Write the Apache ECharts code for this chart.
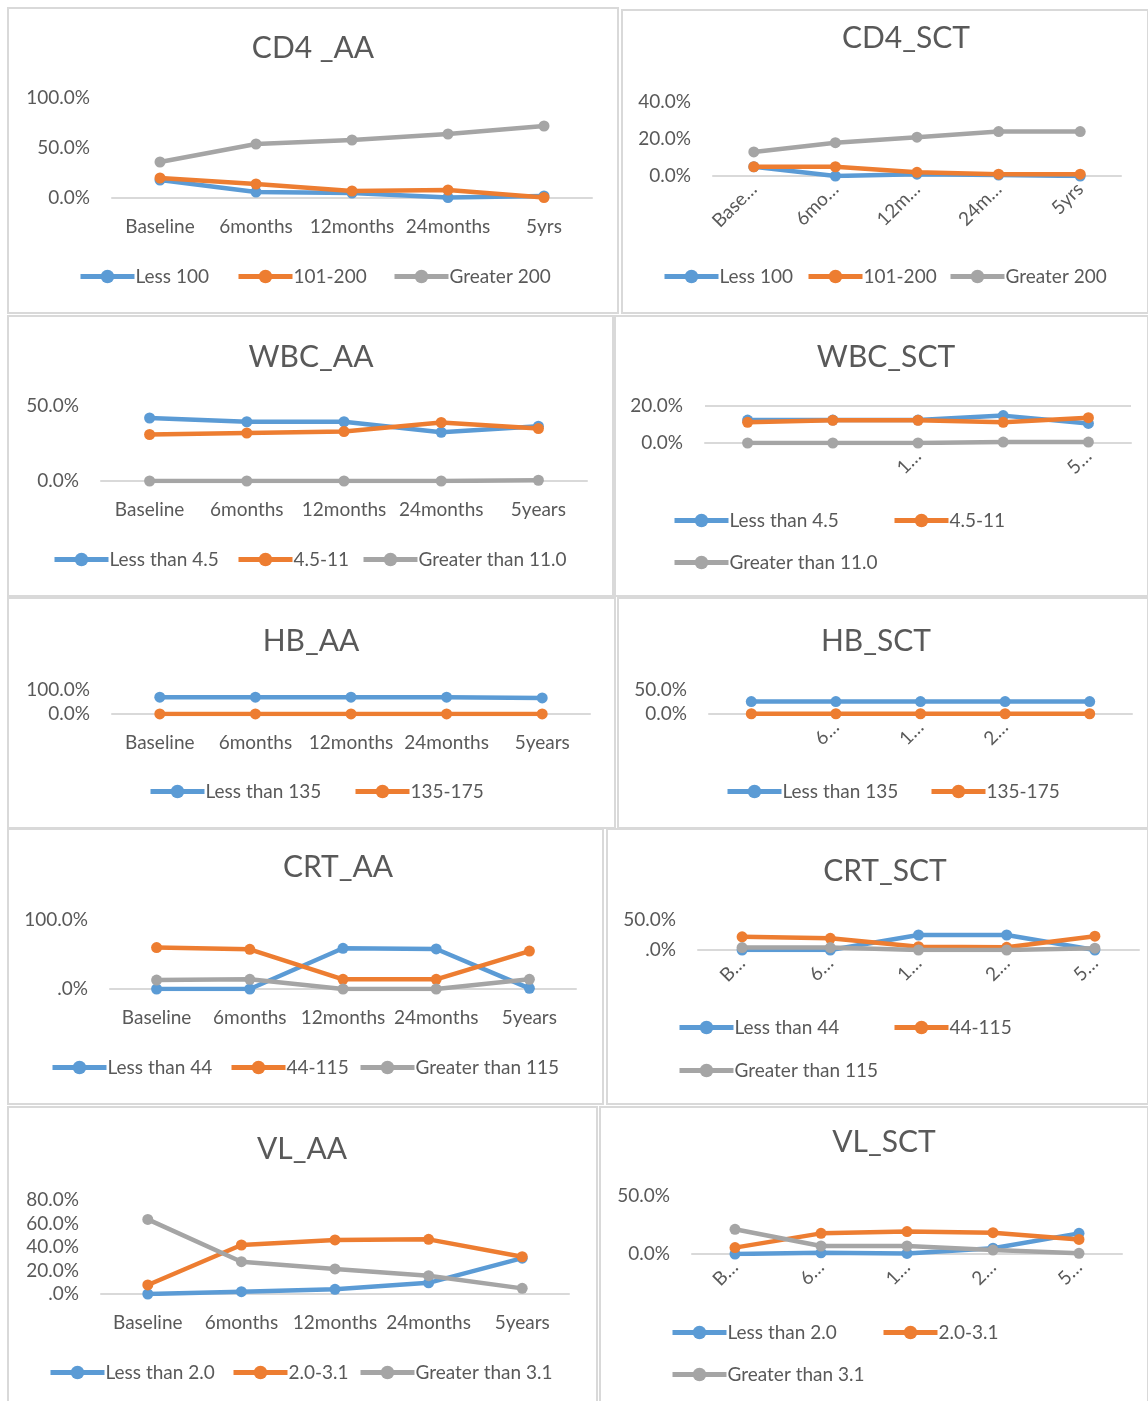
<!DOCTYPE html>
<html>
<head>
<meta charset="utf-8">
<script src="https://cdn.jsdelivr.net/npm/echarts@6/dist/echarts.min.js"></script>
<style>
html,body{margin:0;padding:0;background:#fff;}
#c{width:1148px;height:1401px;}
</style>
</head>
<body>
<div id="c"></div>
<script>
// ---------- DATA ----------
const catsYrs   = ["Baseline","6months","12months","24months","5yrs"];
const catsYears = ["Baseline","6months","12months","24months","5years"];
const cd4SctTicks = ["Base…","6mo…","12m…","24m…","5yrs"];
const wbcSctTicks = ["","","1…","","5…"];
const hbSctTicks  = ["","6…","1…","2…",""];
const crtSctTicks = ["B…","6…","1…","2…","5…"];
const vlSctTicks  = ["B…","6…","1…","2…","5…"];

const cd4Names = ["Less 100","101-200","Greater 200"];
const wbcNames = ["Less than 4.5","4.5-11","Greater than 11.0"];
const hbNames  = ["Less than 135","135-175"];
const crtNames = ["Less than 44","44-115","Greater than 115"];
const vlNames  = ["Less than 2.0","2.0-3.1","Greater than 3.1"];

const cd4AaLess100     = [18, 6, 5, 0.5, 2];
const cd4Aa101to200    = [20, 14, 7, 8, 0.5];
const cd4AaGreater200  = [36, 54, 58, 64, 72];
const cd4SctLess100    = [5, 0, 1, 0.5, 0];
const cd4Sct101to200   = [5, 5, 2, 1, 1];
const cd4SctGreater200 = [13, 18, 21, 24, 24];

const wbcAaLess45     = [42, 39.5, 39.5, 32.5, 36.5];
const wbcAa45to11     = [31, 32, 33, 39, 35];
const wbcAaGreater11  = [0, 0, 0, 0, 0.5];
const wbcSctLess45    = [12.4, 12.4, 12.4, 14.8, 10.6];
const wbcSct45to11    = [11.2, 12.3, 12.3, 11.2, 13.7];
const wbcSctGreater11 = [0, 0, 0, 0.5, 0.5];

const hbAaLess135   = [70, 70, 70, 70, 67];
const hbAa135to175  = [0.5, 0.5, 0.5, 0.5, 0.5];
const hbSctLess135  = [26, 26, 26, 26, 26];
const hbSct135to175 = [0.5, 0.5, 0.5, 0.5, 0.5];

const crtAaLess44      = [0, 0, 59, 58, 1];
const crtAa44to115     = [60, 57.5, 14, 14, 55];
const crtAaGreater115  = [13, 14, 0, 0, 14];
const crtSctLess44     = [0, 0, 25, 25, 0];
const crtSct44to115    = [22, 19.5, 5.5, 4.5, 23];
const crtSctGreater115 = [4, 4, 0, 0, 3];

const vlAaLess2      = [0, 2, 4, 9.5, 30.5];
const vlAa2to31      = [7.7, 41.7, 46, 46.5, 31.7];
const vlAaGreater31  = [63.5, 27.5, 21.3, 15.6, 4.8];
const vlSctLess2     = [0, 1, 0.5, 5, 17.8];
const vlSct2to31     = [5.5, 17.8, 19.3, 18.4, 12.6];
const vlSctGreater31 = [21.3, 6.9, 6.9, 3.4, 0.6];

// ---------- LAYOUT ----------
const panels = [
  {box:[8,8,610,305], title:"CD4 _AA", tx:313, ty:47, grid:[112,98,480,100], max:100, step:50, fmt:'0.0%',
   cats:catsYrs, ticks:catsYrs, rot:0, names:cd4Names, values:[cd4AaLess100,cd4Aa101to200,cd4AaGreater200],
   legend:[[78,277],[236,277],[392,277]]},
  {box:[622,10,526,303], title:"CD4_SCT", tx:906, ty:37, grid:[713,102,408,74], max:40, step:20, fmt:'0.0%',
   cats:catsYrs, ticks:cd4SctTicks, rot:45, names:cd4Names, values:[cd4SctLess100,cd4Sct101to200,cd4SctGreater200],
   legend:[[662,277],[806,277],[948,277]]},
  {box:[8,316,605,280], title:"WBC_AA", tx:311, ty:356, grid:[101,406,486,75], max:50, step:50, fmt:'0.0%',
   cats:catsYears, ticks:catsYears, rot:0, names:wbcNames, values:[wbcAaLess45,wbcAa45to11,wbcAaGreater11],
   legend:[[52,560],[236,560],[361,560]]},
  {box:[615,316,533,280], title:"WBC_SCT", tx:886, ty:356, grid:[705,406,426,37], max:20, step:20, fmt:'0.0%', split:true,
   cats:catsYears, ticks:wbcSctTicks, rot:45, names:wbcNames, values:[wbcSctLess45,wbcSct45to11,wbcSctGreater11],
   legend:[[672,521],[892,521],[672,563]]},
  {box:[8,598,607,230], title:"HB_AA", tx:311, ty:640, grid:[112,690,478,24], max:100, step:100, fmt:'0.0%',
   cats:catsYears, ticks:catsYears, rot:0, names:hbNames, values:[hbAaLess135,hbAa135to175],
   legend:[[148,792],[353,792]]},
  {box:[618,598,530,230], title:"HB_SCT", tx:876, ty:640, grid:[709,690,423,24], max:50, step:50, fmt:'0.0%',
   cats:catsYears, ticks:hbSctTicks, rot:45, names:hbNames, values:[hbSctLess135,hbSct135to175],
   legend:[[725,792],[929,792]]},
  {box:[8,829,595,275], title:"CRT_AA", tx:338, ty:866, grid:[110,920,466,69], max:100, step:100, fmt:'.0%',
   cats:catsYears, ticks:catsYears, rot:0, names:crtNames, values:[crtAaLess44,crtAa44to115,crtAaGreater115],
   legend:[[50,1068],[229,1068],[358,1068]]},
  {box:[607,829,541,275], title:"CRT_SCT", tx:885, ty:870, grid:[698,920,441,30], max:50, step:50, fmt:'.0%',
   cats:catsYears, ticks:crtSctTicks, rot:45, names:crtNames, values:[crtSctLess44,crtSct44to115,crtSctGreater115],
   legend:[[677,1028],[892,1028],[677,1071]]},
  {box:[8,1107,589,300], title:"VL_AA", tx:302, ty:1148, grid:[101,1200,468,94], max:80, step:20, fmt:'.0%',
   cats:catsYears, ticks:catsYears, rot:0, names:vlNames, values:[vlAaLess2,vlAa2to31,vlAaGreater31],
   legend:[[48,1373],[231,1373],[358,1373]]},
  {box:[600,1107,548,300], title:"VL_SCT", tx:884, ty:1141, grid:[692,1196,430,58], max:50, step:50, fmt:'0.0%',
   cats:catsYears, ticks:vlSctTicks, rot:45, names:vlNames, values:[vlSctLess2,vlSct2to31,vlSctGreater31],
   legend:[[670,1333],[881,1333],[670,1375]]}
];

const COLORS = ['#5b9bd5','#ed7d31','#a5a5a5'];
const FONT = 'Lato, "Open Sans", sans-serif';
const TXT = '#595959';

const option = {
  animation:false,
  backgroundColor:'#ffffff',
  title:[], grid:[], xAxis:[], yAxis:[], series:[], legend:[],
  graphic:[]
};

panels.forEach((p, i) => {
  option.graphic.push({type:'rect', shape:{x:p.box[0], y:p.box[1], width:p.box[2], height:p.box[3]},
    style:{fill:'none', stroke:'#d9d9d9', lineWidth:2}, z:-1, silent:true});
  option.title.push({text:p.title, left:p.tx, top:p.ty-14, textAlign:'center', padding:0,
    textStyle:{fontFamily:FONT, fontSize:30, fontWeight:'normal', color:TXT}});
  option.grid.push({left:p.grid[0], top:p.grid[1], width:p.grid[2], height:p.grid[3], containLabel:false});
  const ticks = p.ticks;
  const cats = p.cats;
  option.xAxis.push({type:'category', gridIndex:i, data:cats, boundaryGap:true,
    axisTick:{show:false},
    axisLine:{lineStyle:{color:'#d9d9d9', width:2}},
    axisLabel:{interval:0, rotate:p.rot, margin:p.rot?10:19, color:TXT, fontFamily:FONT, fontSize:19,
      formatter:(v, idx) => ticks[idx]}});
  const fmt = p.fmt;
  option.yAxis.push({type:'value', gridIndex:i, min:0, max:p.max, interval:p.step,
    axisLine:{show:false}, axisTick:{show:false},
    splitLine:{show:!!p.split, lineStyle:{color:'#d9d9d9', width:2}},
    axisLabel:{margin:22, color:TXT, fontFamily:FONT, fontSize:19,
      formatter:v => (fmt === '.0%' && v === 0) ? '.0%' : v.toFixed(1) + '%'}});
  p.values.forEach((vals, k) => {
    option.series.push({type:'line', name:p.names[k], xAxisIndex:i, yAxisIndex:i, data:vals,
      symbol:'circle', symbolSize:11, showSymbol:true,
      lineStyle:{color:COLORS[k], width:4.5}, itemStyle:{color:COLORS[k]}, z:2+k});
  });
  p.legend.forEach((pos, k) => {
    option.legend.push({left:pos[0], top:pos[1]-10, data:[p.names[k]], selectedMode:false,
      itemWidth:54, itemHeight:17, padding:0,
      lineStyle:{width:5},
      textStyle:{fontFamily:FONT, fontSize:19, color:TXT, padding:[0,0,0,-4]}});
  });
});

const chart = echarts.init(document.getElementById('c'), null, {renderer:'canvas'});
chart.setOption(option);
</script>
</body>
</html>
